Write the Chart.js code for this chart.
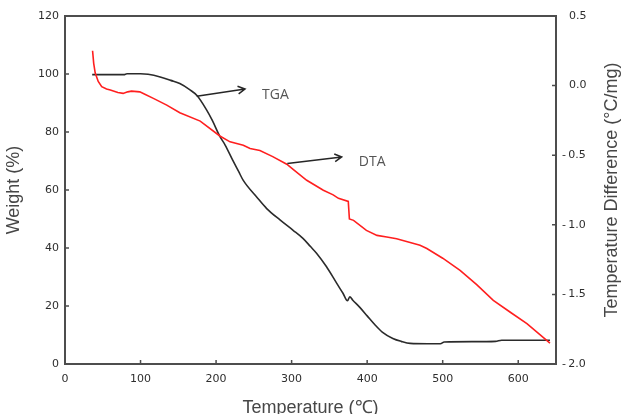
<!DOCTYPE html>
<html>
<head>
<meta charset="utf-8">
<script src="https://cdn.jsdelivr.net/npm/chart.js@4.4.0/dist/chart.umd.min.js"></script>
<style>
  html, body { margin: 0; padding: 0; background: #fff; }
  #wrap { width: 631px; height: 414px; }
</style>
</head>
<body>
<div id="wrap"><canvas id="chart" width="631" height="414"></canvas></div>
<script>
/* ─── TGA / DTA thermogram ─────────────────────────────────────────────── */

const tgaTemp   = [36, 60, 78, 82, 100, 110, 126, 140, 152, 165, 175, 187, 195, 205, 212, 222, 230, 236,
                   254, 267, 285, 302, 315, 325, 333, 346, 360, 368, 374, 377, 381, 390, 400, 410, 420, 434, 445, 457, 480,
                   497, 502, 540, 570, 578, 610, 642];
const tgaWeight = [99.8, 99.8, 99.8, 100.1, 100.1, 99.9, 99.0, 97.8, 96.7, 94.6, 92.5, 87.8, 84.0, 78.5, 75.5, 70.3, 66.3, 63.3,
                   57.5, 53.6, 49.6, 46.1, 43.3, 40.5, 38.2, 33.6, 27.7, 24.4, 21.8, 23.2, 22.0, 19.6, 16.6, 13.6, 11.0, 8.8, 7.8, 7.1, 7.0,
                   7.0, 7.6, 7.7, 7.8, 8.2, 8.2, 8.2];

const dtaTemp = [36.5, 38, 40, 44, 48.6, 55, 60, 70, 77, 83, 88, 99, 105, 117, 134.7, 152, 179, 205, 218.5,
                 236, 245, 258, 275, 293.6, 302, 320, 342, 355, 362, 375, 376.5, 382, 399, 413, 426, 439, 470, 479, 500,
                 523, 545, 567, 590, 611.5, 642];
const dtaDiff = [0.25, 0.16, 0.09, 0.03, -0.008, -0.025, -0.032, -0.05, -0.056, -0.045, -0.04, -0.045, -0.06, -0.092, -0.14, -0.195, -0.255, -0.362, -0.404,
                 -0.428, -0.452, -0.466, -0.51, -0.565, -0.602, -0.68, -0.752, -0.785, -0.81, -0.832, -0.958, -0.968, -1.04, -1.076, -1.088, -1.1, -1.147, -1.17, -1.24,
                 -1.327, -1.43, -1.543, -1.63, -1.71, -1.85];

const xTickValues = [0, 100, 200, 300, 400, 500, 600];

const TICK_FONT  = { family: 'DejaVu Sans', size: 11 };
const TITLE_FONT = { family: 'Liberation Sans', size: 18, lineHeight: 1 };
const INK = '#2e2e2e';
const TITLE_INK = '#474747';

const toPoints = (xs, ys) => xs.map((x, i) => ({ x: x, y: ys[i] }));

/* Frame, inward tick marks, right-hand title and the arrow notes */
const framePlugin = {
    id: 'frame',
    beforeDatasetsDraw(chart) {
        const { ctx, chartArea: a, scales } = chart;
        ctx.save();
        ctx.strokeStyle = '#4d4d4d';
        ctx.lineWidth = 2;
        ctx.strokeRect(a.left, a.top, a.right - a.left, a.bottom - a.top);

        ctx.lineWidth = 1.5;
        ctx.beginPath();
        for (const t of scales.x.ticks) {
            const px = scales.x.getPixelForValue(t.value);
            ctx.moveTo(px, a.bottom);
            ctx.lineTo(px, a.bottom - 4);
        }
        for (const t of scales.y.ticks) {
            const py = scales.y.getPixelForValue(t.value);
            ctx.moveTo(a.left, py);
            ctx.lineTo(a.left + 4, py);
        }
        for (const t of scales.y1.ticks) {
            const py = scales.y1.getPixelForValue(t.value);
            ctx.moveTo(a.right, py);
            ctx.lineTo(a.right - 4, py);
        }
        ctx.stroke();
        ctx.restore();
    },
    afterDatasetsDraw(chart) {
        const { ctx, chartArea: a, scales } = chart;
        const x = scales.x, y = scales.y;
        ctx.save();

        // right axis title reads bottom-to-top like the left one
        ctx.font = TITLE_FONT.size + 'px ' + TITLE_FONT.family;
        ctx.fillStyle = TITLE_INK;
        ctx.textAlign = 'center';
        ctx.textBaseline = 'middle';
        ctx.translate(612, (a.top + a.bottom) / 2);
        ctx.rotate(-Math.PI / 2);
        ctx.fillText('Temperature Difference (°C/mg)', 0, 0);
        ctx.setTransform(1, 0, 0, 1, 0, 0);

        const notes = [
            { text: 'TGA', from: [174.3, 92.3], to: [238.3, 94.8], at: [260.8, 92.8] },
            { text: 'DTA', from: [294.3, 69.1], to: [366.3, 71.4], at: [388.9, 69.6] },
        ];
        ctx.strokeStyle = '#262626';
        ctx.lineWidth = 1.5;
        ctx.font = '14px "Open Sans"';
        ctx.fillStyle = '#555555';
        ctx.textAlign = 'left';
        for (const n of notes) {
            const x0 = x.getPixelForValue(n.from[0]), y0 = y.getPixelForValue(n.from[1]);
            const x1 = x.getPixelForValue(n.to[0]),   y1 = y.getPixelForValue(n.to[1]);
            const ang = Math.atan2(y1 - y0, x1 - x0);
            ctx.beginPath();
            ctx.moveTo(x0, y0);
            ctx.lineTo(x1, y1);
            ctx.moveTo(x1 - 8 * Math.cos(ang - 0.5), y1 - 8 * Math.sin(ang - 0.5));
            ctx.lineTo(x1, y1);
            ctx.lineTo(x1 - 8 * Math.cos(ang + 0.5), y1 - 8 * Math.sin(ang + 0.5));
            ctx.stroke();
            ctx.fillText(n.text, x.getPixelForValue(n.at[0]), y.getPixelForValue(n.at[1]));
        }
        ctx.restore();
    }
};

new Chart(document.getElementById('chart'), {
    type: 'line',
    data: {
        datasets: [
            {
                label: 'DTA',
                data: toPoints(dtaTemp, dtaDiff),
                yAxisID: 'y1',
                borderColor: '#ff1f1f',
                borderWidth: 1.6,
                pointRadius: 0,
                tension: 0,
                fill: false,
                order: 0,
            },
            {
                label: 'TGA',
                data: toPoints(tgaTemp, tgaWeight),
                yAxisID: 'y',
                borderColor: '#2b2b2b',
                borderWidth: 1.6,
                pointRadius: 0,
                cubicInterpolationMode: 'monotone',
                fill: false,
                order: 1,
            },
        ]
    },
    options: {
        responsive: false,
        animation: false,
        layout: { padding: { top: 16, left: 0, right: 0, bottom: 0 } },
        plugins: {
            legend: { display: false },
            tooltip: { enabled: false },
        },
        scales: {
            x: {
                type: 'linear',
                position: 'bottom',
                min: 0,
                max: 650,
                afterBuildTicks(scale) {
                    scale.ticks = xTickValues.map(v => ({ value: v }));
                },
                afterFit(scale) { scale.height = 50; },
                grid: { display: false, drawTicks: false },
                border: { display: false },
                ticks: { color: INK, font: TICK_FONT, padding: 9, maxRotation: 0 },
                title: {
                    display: true,
                    text: 'Temperature (℃)',
                    color: TITLE_INK,
                    font: TITLE_FONT,
                    padding: { top: 0, bottom: -3 },
                },
            },
            y: {
                position: 'left',
                min: 0,
                max: 120,
                ticks: { stepSize: 20, color: INK, font: TICK_FONT, padding: 6 },
                afterFit(scale) { scale.width = 65; },
                grid: { display: false, drawTicks: false },
                border: { display: false },
                title: {
                    display: true,
                    text: 'Weight (%)',
                    color: TITLE_INK,
                    font: TITLE_FONT,
                    padding: { top: 5, bottom: 0 },
                },
            },
            y1: {
                position: 'right',
                min: -2,
                max: 0.5,
                ticks: {
                    stepSize: 0.5,
                    color: INK,
                    font: TICK_FONT,
                    padding: 6,
                    callback: v => v < 0 ? '-\u2009' + Math.abs(v).toFixed(1) : '\u2007' + v.toFixed(1),
                },
                afterFit(scale) { scale.width = 75; },
                grid: { display: false, drawTicks: false },
                border: { display: false },
            },
        }
    },
    plugins: [framePlugin]
});
</script>
</body>
</html>
